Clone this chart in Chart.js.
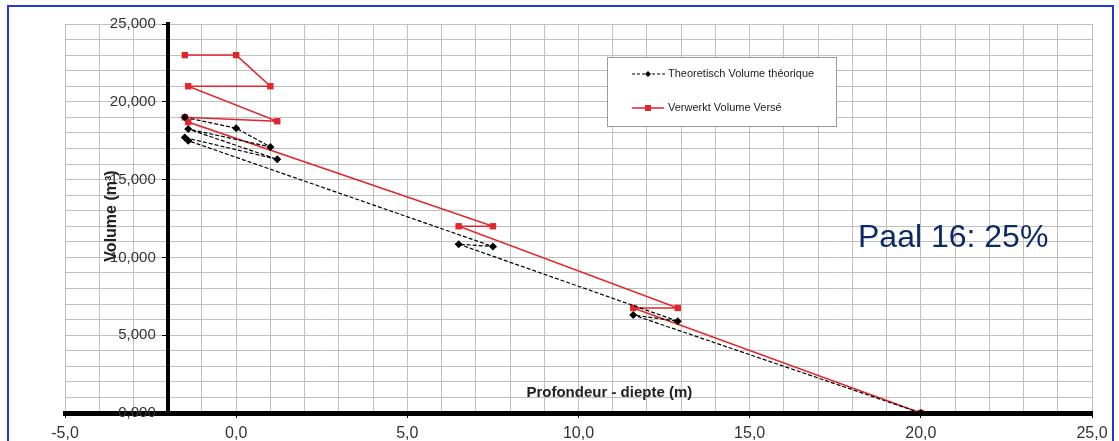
<!DOCTYPE html>
<html>
<head>
<meta charset="utf-8">
<script src="https://cdn.jsdelivr.net/npm/chart.js@4.4.1/dist/chart.umd.min.js"></script>
<style>
  html, body { margin: 0; padding: 0; background: #fff; }
  #wrap { position: relative; width: 1119px; height: 441px; overflow: hidden; }
  #frame { position: absolute; left: 7px; top: 5px; width: 1107px; height: 470px; border: 2px solid #2438d2; box-sizing: border-box; }
  canvas { position: absolute; left: 0; top: 0; }
</style>
</head>
<body>
<div id="wrap">
  <div id="frame"></div>
  <canvas id="chart" width="1119" height="441"></canvas>
</div>
<script>
// depth (m) / volume (m3), in the order the points were logged
const theoDepth  = [-1.5, 0.0, 1.0, -1.4, 1.2, -1.5, -1.4, 7.5, 6.5, 12.9, 11.6, 20.0];
const theoVolume = [19.0, 18.3, 17.1, 18.25, 16.3, 17.7, 17.5, 10.7, 10.85, 5.9, 6.3, 0.0];

const versDepth  = [-1.5, 0.0, 1.0, -1.4, 1.2, -1.5, -1.4, 7.5, 6.5, 12.9, 11.6, 20.0];
const versVolume = [23.0, 23.0, 21.0, 21.0, 18.75, 19.0, 18.7, 12.0, 12.0, 6.75, 6.75, 0.0];

const seriesNames = ['Theoretisch Volume théorique', 'Verwerkt Volume Versé'];

const FONT = 'Liberation Sans';

function toPoints(xs, ys) {
  return xs.map((x, i) => ({ x: x, y: ys[i] }));
}

const fmtVol = v => (v % 5 === 0 ? v.toFixed(3).replace('.', ',') : '');
const fmtDepth = v => (v % 5 === 0 ? v.toFixed(1).replace('.', ',') : '');
const bigTick = c => (c.tick && c.tick.value % 5 === 0 ? '#000' : 'rgba(0,0,0,0)');

// legend box + texts inside the plot
const extras = {
  id: 'extras',
  afterDraw(chart) {
    const ctx = chart.ctx;
    const area = chart.chartArea;
    ctx.save();

    // y title, reads bottom to top
    ctx.save();
    ctx.translate(112, 216);
    ctx.rotate(-Math.PI / 2);
    ctx.font = 'bold 16px "' + FONT + '"';
    ctx.fillStyle = '#222';
    ctx.textAlign = 'center';
    ctx.textBaseline = 'middle';
    ctx.fillText('Volume (m³)', 0, 0);
    ctx.restore();

    // x title sits inside the plot, above the x axis
    ctx.font = 'bold 15px "' + FONT + '"';
    ctx.fillStyle = '#222';
    ctx.textAlign = 'center';
    ctx.textBaseline = 'middle';
    ctx.fillText('Profondeur - diepte (m)', area.left + (area.right - area.left) * 0.530, area.bottom - 20);

    // legend
    const bx = 607, by = 57, bw = 229, bh = 69;
    ctx.fillStyle = '#fff';
    ctx.fillRect(bx, by, bw, bh);
    ctx.strokeStyle = '#9a9a9a';
    ctx.lineWidth = 1;
    ctx.strokeRect(bx + 0.5, by + 0.5, bw, bh);

    ctx.font = '11px "' + FONT + '"';
    ctx.textAlign = 'left';
    ctx.textBaseline = 'middle';

    // theoretical
    let y = 74;
    ctx.strokeStyle = '#000';
    ctx.lineWidth = 1.2;
    ctx.setLineDash([3, 2]);
    ctx.beginPath(); ctx.moveTo(632, y); ctx.lineTo(665, y); ctx.stroke();
    ctx.setLineDash([]);
    ctx.fillStyle = '#000';
    ctx.beginPath(); ctx.moveTo(648, y - 3); ctx.lineTo(651, y); ctx.lineTo(648, y + 3); ctx.lineTo(645, y); ctx.closePath(); ctx.fill();
    ctx.fillStyle = '#222';
    ctx.fillText(chart.data.datasets[0].label, 668, y);

    // poured
    y = 108;
    ctx.strokeStyle = '#e3262b';
    ctx.lineWidth = 1.5;
    ctx.beginPath(); ctx.moveTo(632, y); ctx.lineTo(664, y); ctx.stroke();
    ctx.fillStyle = '#e3262b';
    ctx.fillRect(645, y - 3, 6, 6);
    ctx.fillStyle = '#222';
    ctx.fillText(chart.data.datasets[1].label, 668, y);

    // pile note
    ctx.font = '32px "' + FONT + '"';
    ctx.fillStyle = '#0d2a68';
    ctx.textBaseline = 'alphabetic';
    ctx.fillText('Paal 16: 25%', 858, 247);

    ctx.restore();
  }
};

const ctx = document.getElementById('chart').getContext('2d');
const chart = new Chart(ctx, {
  type: 'scatter',
  data: {
    datasets: [
      {
        label: seriesNames[0],
        data: toPoints(theoDepth, theoVolume),
        showLine: true,
        borderColor: '#000',
        borderWidth: 1.2,
        borderDash: [4, 2],
        backgroundColor: '#000',
        pointStyle: 'rectRot',
        pointRadius: 4,
        pointBorderWidth: 0
      },
      {
        label: seriesNames[1],
        data: toPoints(versDepth, versVolume),
        showLine: true,
        borderColor: '#e3262b',
        borderWidth: 1.5,
        backgroundColor: '#e3262b',
        pointStyle: 'rect',
        pointRadius: 4.5,
        pointBorderWidth: 0
      }
    ]
  },
  options: {
    responsive: false,
    animation: false,
    layout: { padding: { left: 65, top: 24, right: 27, bottom: 0 } },
    plugins: {
      legend: { display: false },
      tooltip: { enabled: false }
    },
    scales: {
      x: {
        type: 'linear',
        position: 'bottom',
        min: -5,
        max: 25,
        afterFit: s => { s.height = 28; },
        ticks: {
          stepSize: 1,
          autoSkip: false,
          maxRotation: 0,
          padding: 6,
          color: '#333',
          font: { family: FONT, size: 16 },
          callback: fmtDepth
        },
        grid: { color: '#bfbfbf', lineWidth: 1, tickLength: 5, tickColor: bigTick },
        border: { color: '#000', width: 5 }
      },
      // the axis line, grid and tick marks, crossing at x = -2
      y: {
        type: 'linear',
        position: { x: -2 },
        min: 0,
        max: 25,
        ticks: { stepSize: 1, autoSkip: false, display: false },
        grid: { color: '#bfbfbf', lineWidth: 1, tickLength: 4, tickColor: bigTick },
        border: { color: '#000', width: 4 }
      },
      // the labels, set a little left of the axis line
      yLabels: {
        type: 'linear',
        position: { x: -2.35 },
        min: 0,
        max: 25,
        ticks: {
          stepSize: 1,
          autoSkip: false,
          color: '#333',
          font: { family: FONT, size: 15 },
          callback: fmtVol
        },
        grid: { display: false },
        border: { display: false }
      }
    }
  },
  plugins: [extras]
});
</script>
</body>
</html>
